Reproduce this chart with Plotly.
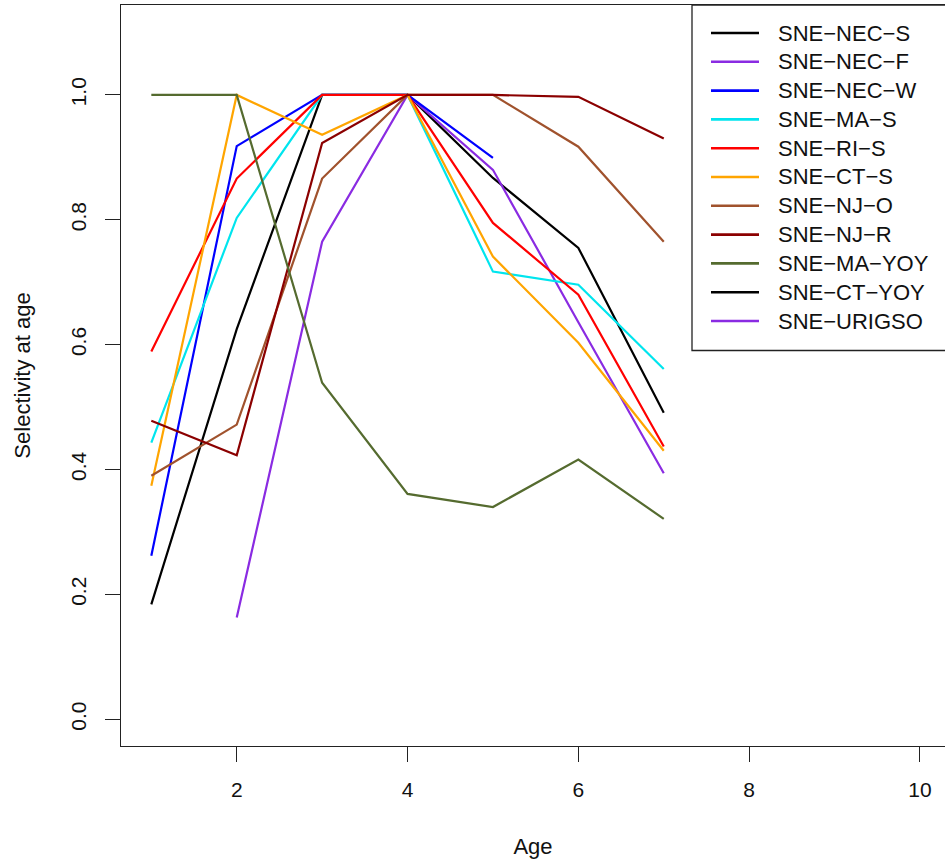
import plotly.graph_objects as go

ages = [1, 2, 3, 4, 5, 6, 7]

series_names = ["SNE−NEC−S", "SNE−NEC−F", "SNE−NEC−W", "SNE−MA−S", "SNE−RI−S",
                "SNE−CT−S", "SNE−NJ−O", "SNE−NJ−R", "SNE−MA−YOY", "SNE−CT−YOY",
                "SNE−URIGSO"]
series_colors = ["#000000", "#8A2BE2", "#0000FF", "#00E5EE", "#FF0000",
                 "#FFA500", "#A0522D", "#8B0000", "#556B2F", "#000000", "#8A2BE2"]

nec_s = [0.184, 0.625, 1.0, 1.0, 0.867, 0.755, 0.491]
nec_f = [None, 0.163, 0.765, 1.0, 0.880, 0.636, 0.394]
nec_w = [0.262, 0.918, 1.0, 1.0, 0.899, None, None]
ma_s = [0.443, 0.803, 1.0, 1.0, 0.717, 0.696, 0.561]
ri_s = [0.589, 0.866, 1.0, 1.0, 0.795, 0.680, 0.437]
ct_s = [0.374, 1.0, 0.936, 1.0, 0.741, 0.603, 0.430]
nj_o = [0.390, 0.472, 0.866, 1.0, 1.0, 0.917, 0.765]
nj_r = [0.478, 0.423, 0.923, 1.0, 1.0, 0.997, 0.930]
ma_yoy = [1.0, 1.0, 0.539, 0.361, 0.340, 0.416, 0.321]
ct_yoy = [None, None, None, None, None, None, None]
urigso = [None, None, None, None, None, None, None]

all_series = [nec_s, nec_f, nec_w, ma_s, ri_s, ct_s, nj_o, nj_r, ma_yoy, ct_yoy, urigso]

x_ticks = [2, 4, 6, 8, 10]
y_ticks = [0.0, 0.2, 0.4, 0.6, 0.8, 1.0]

FONT = "Liberation Sans, Arial, sans-serif"
LINE_W = 2.2

fig = go.Figure()
for name, color, vals in zip(series_names, series_colors, all_series):
    fig.add_trace(go.Scatter(x=ages, y=vals, mode="lines", name=name,
                             line=dict(color=color, width=LINE_W),
                             connectgaps=False, showlegend=False))

W, H = 945, 866
ML, MR, MT, MB = 121, 0, 5, 120
pw = W - ML - MR
ph = H - MT - MB

def px_x(px):
    return (px - ML) / pw

def px_y(py):
    return (H - MB - py) / ph

axis_common = dict(showline=True, linecolor="#222222", linewidth=1.3,
                   ticks="outside", ticklen=15, tickwidth=1.3, tickcolor="#222222",
                   showgrid=False, zeroline=False, ticklabelstandoff=10,
                   tickfont=dict(family=FONT, size=21, color="#111111"))

# legend drawn as a boxed key (R style)
shapes = [dict(type="rect", xref="paper", yref="paper",
               x0=px_x(692), x1=px_x(960), y0=px_y(350.5), y1=px_y(5),
               line=dict(color="#222222", width=1.3), fillcolor="white",
               layer="below")]
annotations = []
row0, row_step = 33.0, 28.8
for i, (name, color) in enumerate(zip(series_names, series_colors)):
    yy = px_y(row0 + i * row_step)
    shapes.append(dict(type="line", xref="paper", yref="paper",
                       x0=px_x(711), x1=px_x(759), y0=yy, y1=yy,
                       line=dict(color=color, width=LINE_W + 0.4)))
    annotations.append(dict(xref="paper", yref="paper", x=px_x(776), y=yy,
                            xanchor="left", yanchor="middle", showarrow=False,
                            text=name, font=dict(family=FONT, size=22, color="#111111")))

fig.update_layout(
    width=W, height=H,
    margin=dict(l=ML, r=MR, t=MT, b=MB, autoexpand=False),
    paper_bgcolor="white", plot_bgcolor="white",
    xaxis=dict(range=[0.645, 10.293], tickvals=x_ticks, mirror=True,
               title=dict(text="Age", font=dict(family=FONT, size=22, color="#111111"), standoff=38),
               **axis_common),
    yaxis=dict(range=[-0.0428, 1.144], tickvals=y_ticks, tickformat=".1f", tickangle=-90,
               title=dict(text="Selectivity at age", font=dict(family=FONT, size=22, color="#111111"), standoff=30),
               **axis_common),
    showlegend=False,
    shapes=shapes,
    annotations=annotations,
)

fig.write_html("out.html", config={"displayModeBar": False},
               post_script="document.body.style.margin='0';document.body.style.overflow='hidden';")
